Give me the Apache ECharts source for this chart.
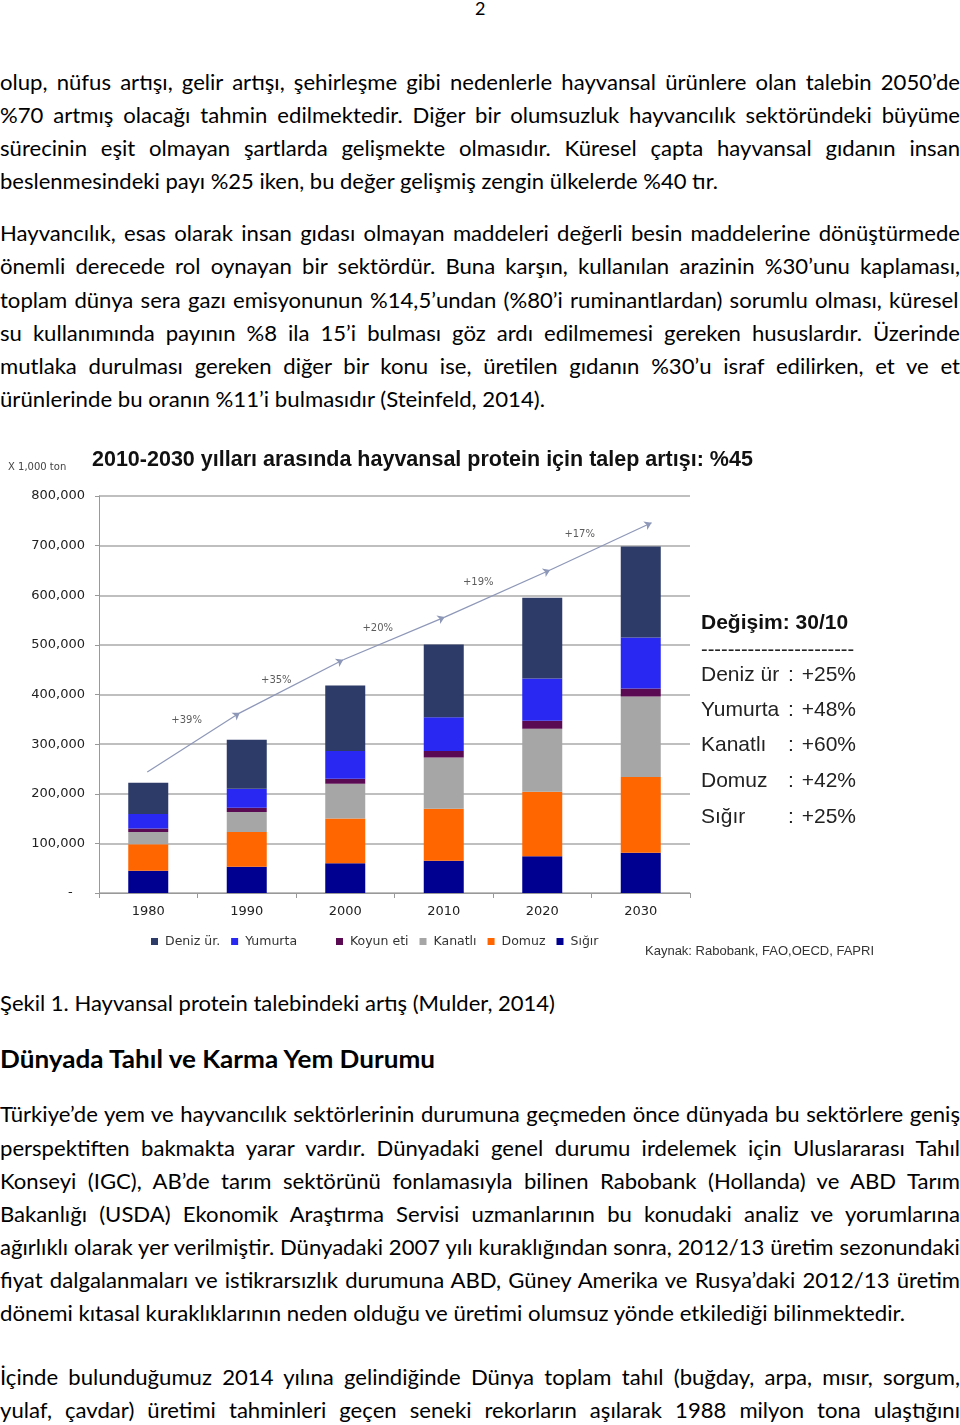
<!DOCTYPE html>
<html><head><meta charset="utf-8">
<script src="https://cdn.jsdelivr.net/npm/echarts@6/dist/echarts.min.js"></script>
<style>
html,body{margin:0;padding:0;background:#fff;}
body{width:960px;height:1425px;position:relative;overflow:hidden;font-family:Lato,'Noto Sans',sans-serif;color:#000;}
.ln{position:absolute;left:0;white-space:nowrap;font-size:21px;line-height:28px;transform-origin:0 50%;}
#chart{position:absolute;left:0;top:440px;width:960px;height:530px;}
</style></head><body>
<div id="chart"></div>
<div id="text"></div>
<script>
// ---------- chart data ----------
const years = ['1980', '1990', '2000', '2010', '2020', '2030'];
const sigir    = [45000, 53000, 60000, 65000, 74000, 81000];
const domuz    = [53000, 70000, 90000, 105000, 130000, 153000];
const kanatli  = [25000, 40000, 70000, 103000, 127000, 162000];
const koyunEti = [7000, 9000, 10000, 13000, 16000, 16000];
const yumurta  = [29000, 38000, 56000, 68000, 85000, 103000];
const denizUr  = [63000, 99000, 132000, 147000, 163000, 183000];
const yTicks = [0, 100000, 200000, 300000, 400000, 500000, 600000, 700000, 800000];
// growth arrow (x in category units 0..6, y in x1000 ton)
const arrowX = [0.49, 1.43, 2.48, 3.51, 4.58, 5.61];
const arrowY = [244000, 363000, 470000, 556000, 651000, 746000];
const growthLabels = ['+39%', '+35%', '+20%', '+19%', '+17%'];
const growthLabelX = [0.89, 1.80, 2.83, 3.85, 4.88];
const growthLabelY = [348000, 429000, 534000, 625000, 723000];
// change 2030/2010 panel
const changeNames = ['Deniz ür', 'Yumurta', 'Kanatlı', 'Domuz', 'Sığır'];
const changeValues = ['+25%', '+48%', '+60%', '+42%', '+25%'];

// ---------- page text ----------
const textLines = [
 {t:'olup, nüfus artışı, gelir artışı, şehirleşme gibi nedenlerle hayvansal ürünlere olan talebin 2050’de', y:82, end:960, j:true},
 {t:'%70 artmış olacağı tahmin edilmektedir. Diğer bir olumsuzluk hayvancılık sektöründeki büyüme', y:115, end:960, j:true},
 {t:'sürecinin eşit olmayan şartlarda gelişmekte olmasıdır. Küresel çapta hayvansal gıdanın insan', y:148, end:960, j:true},
 {t:'beslenmesindeki payı %25 iken, bu değer gelişmiş zengin ülkelerde %40 tır.', y:181, end:718, j:false, cal:true},
 {t:'Hayvancılık, esas olarak insan gıdası olmayan maddeleri değerli besin maddelerine dönüştürmede', y:233, end:960, j:true},
 {t:'önemli derecede rol oynayan bir sektördür. Buna karşın, kullanılan arazinin %30’unu kaplaması,', y:266, end:960, j:true},
 {t:'toplam dünya sera gazı emisyonunun %14,5’undan (%80’i ruminantlardan) sorumlu olması,  küresel', y:300, end:960, j:true},
 {t:'su kullanımında payının %8 ila 15’i bulması göz ardı edilmemesi gereken hususlardır. Üzerinde', y:333, end:960, j:true},
 {t:'mutlaka durulması gereken diğer bir konu ise, üretilen gıdanın %30’u israf edilirken, et ve et', y:366, end:960, j:true},
 {t:'ürünlerinde bu oranın %11’i bulmasıdır (Steinfeld, 2014).', y:399, end:545, j:false, cal:true},
 {t:'Şekil 1. Hayvansal protein talebindeki artış (Mulder, 2014)', y:1003, end:555, j:false, cal:true},
 {t:'Dünyada Tahıl ve Karma Yem Durumu', y:1059, end:435, j:false, bold:true},
 {t:'Türkiye’de yem ve hayvancılık sektörlerinin durumuna geçmeden önce dünyada bu sektörlere geniş', y:1114, end:960, j:true},
 {t:'perspektiften bakmakta yarar vardır. Dünyadaki genel durumu irdelemek için Uluslararası Tahıl', y:1148, end:960, j:true},
 {t:'Konseyi (IGC), AB’de tarım sektörünü fonlamasıyla bilinen Rabobank (Hollanda) ve ABD Tarım', y:1181, end:960, j:true},
 {t:'Bakanlığı (USDA) Ekonomik Araştırma Servisi uzmanlarının bu konudaki analiz ve yorumlarına', y:1214, end:960, j:true},
 {t:'ağırlıklı olarak yer verilmiştir.  Dünyadaki 2007 yılı kuraklığından sonra, 2012/13 üretim sezonundaki', y:1247, end:960, j:true},
 {t:'fiyat dalgalanmaları ve istikrarsızlık durumuna ABD, Güney Amerika ve Rusya’daki 2012/13 üretim', y:1280, end:960, j:true},
 {t:'dönemi kıtasal kuraklıklarının neden olduğu ve üretimi olumsuz yönde etkilediği bilinmektedir.', y:1313, end:905, j:false, cal:true},
 {t:'İçinde bulunduğumuz 2014 yılına gelindiğinde Dünya toplam tahıl (buğday, arpa, mısır, sorgum,', y:1377, end:960, j:true},
 {t:'yulaf, çavdar) üretimi tahminleri geçen seneki rekorların aşılarak 1988 milyon tona ulaştığını', y:1410, end:960, j:true}
];

const holder = document.getElementById('text');
const pn = document.createElement('div');
pn.className = 'ln'; pn.textContent = '2'; pn.style.fontSize = '18px';
pn.style.top = '-6px'; pn.style.left = '475px';
holder.appendChild(pn);

const els = textLines.map(l => {
  const d = document.createElement('div');
  d.className = 'ln';
  d.textContent = l.t;
  if (l.bold) { d.style.fontWeight = '700'; d.style.fontSize = '24px'; }
  d.style.top = (l.y - 14) + 'px';
  holder.appendChild(d);
  return d;
});
const widths = els.map(e => e.getBoundingClientRect().width);
let sSum = 0, sN = 0;
textLines.forEach((l, i) => { if (l.cal) { sSum += l.end / widths[i]; sN++; } });
const s = sSum / sN;
textLines.forEach((l, i) => {
  const e = els[i], w = widths[i];
  if (l.j) {
    const n = (l.t.match(/ /g) || []).length;
    e.style.wordSpacing = ((l.end / s - w) / n) + 'px';
    e.style.transform = 'scaleX(' + s + ')';
  } else {
    e.style.transform = 'scaleX(' + (l.end / w) + ')';
  }
});

// ---------- chart ----------
const chart = echarts.init(document.getElementById('chart'), null, {renderer: 'canvas'});
const axisFont = 'DejaVu Sans';
function barSeries(name, data, color) {
  return {name, type: 'bar', stack: 'total', data, barWidth: 40, xAxisIndex: 0,
    itemStyle: {color}, emphasis: {disabled: true}};
}
const segs = [];
for (let i = 0; i < arrowX.length - 1; i++) {
  segs.push({coords: [[arrowX[i], arrowY[i]], [arrowX[i + 1], arrowY[i + 1]]]});
}
const labelPts = growthLabels.map((t, i) => ({name: t, value: [growthLabelX[i], growthLabelY[i]]}));

const graphics = [
  {type: 'text', x: 92, y: 20, style: {text: '2010-2030 yılları arasında hayvansal protein için talep artışı: %45',
    font: 'bold 21.5px "Liberation Sans"', fill: '#111', verticalAlign: 'middle'}},
  {type: 'text', x: 8, y: 27, style: {text: 'X 1,000 ton', font: '10px "DejaVu Sans"', fill: '#444', verticalAlign: 'middle'}},
  {type: 'text', x: 701, y: 183, style: {text: 'Değişim: 30/10', font: 'bold 21px "Liberation Sans"', fill: '#111', verticalAlign: 'middle'}},
  {type: 'text', x: 701, y: 210, style: {text: '-----------------------', font: '20px "Liberation Sans"', fill: '#222', verticalAlign: 'middle'}},
  {type: 'text', x: 645, y: 511, style: {text: 'Kaynak: Rabobank, FAO,OECD, FAPRI', font: '13px "Liberation Sans"', fill: '#333', verticalAlign: 'middle'}}
];
const rowY = [235, 270, 305, 341, 377];
changeNames.forEach((n, i) => {
  graphics.push({type: 'text', x: 701, y: rowY[i], style: {text: n, font: '21px "Liberation Sans"', fill: '#222', verticalAlign: 'middle'}});
  graphics.push({type: 'text', x: 788, y: rowY[i], style: {text: ':', font: '21px "Liberation Sans"', fill: '#222', verticalAlign: 'middle'}});
  graphics.push({type: 'text', x: 856, y: rowY[i], style: {text: changeValues[i], font: '21px "Liberation Sans"', fill: '#222', align: 'right', verticalAlign: 'middle'}});
});

const legendCommon = {top: 495, padding: 0, icon: 'rect', itemWidth: 7, itemHeight: 7, itemGap: 11,
  textStyle: {fontFamily: axisFont, fontSize: 12.5, color: '#333', padding: [0, 0, 0, 2]}, selectedMode: false};

chart.setOption({
  animation: false,
  backgroundColor: '#fff',
  grid: {left: 99, top: 56, width: 591, height: 397, containLabel: false},
  legend: [
    Object.assign({left: 151, data: ['Deniz ür.', 'Yumurta']}, legendCommon),
    Object.assign({left: 336, data: ['Koyun eti', 'Kanatlı', 'Domuz', 'Sığır']}, legendCommon)
  ],
  xAxis: [
    {type: 'category', data: years, boundaryGap: true,
      axisLine: {show: true, lineStyle: {color: '#999', width: 1}},
      axisTick: {show: true, length: 5, alignWithLabel: false, lineStyle: {color: '#999'}},
      axisLabel: {fontFamily: axisFont, fontSize: 13, color: '#222', margin: 12},
      splitLine: {show: false}},
    {type: 'value', min: 0, max: 6, show: false}
  ],
  yAxis: {type: 'value', min: yTicks[0], max: yTicks[yTicks.length - 1], interval: yTicks[1] - yTicks[0],
    axisLine: {show: true, lineStyle: {color: '#999', width: 1}},
    axisTick: {show: true, length: 4, lineStyle: {color: '#999'}},
    splitLine: {show: true, lineStyle: {color: '#aaa', width: 1.5}},
    axisLabel: {fontFamily: axisFont, fontSize: 13, color: '#222', margin: 14,
      formatter: v => v === 0 ? '-   ' : v.toLocaleString('en-US')}},
  series: [
    barSeries('Sığır', sigir, '#000090'),
    barSeries('Domuz', domuz, '#ff6600'),
    barSeries('Kanatlı', kanatli, '#a6a6a6'),
    barSeries('Koyun eti', koyunEti, '#5a0a52'),
    barSeries('Yumurta', yumurta, '#2828f2'),
    barSeries('Deniz ür.', denizUr, '#2c3b67'),
    {type: 'lines', coordinateSystem: 'cartesian2d', xAxisIndex: 1, yAxisIndex: 0, silent: true, z: 5,
      symbol: ['none', 'arrow'], symbolSize: 7, lineStyle: {color: '#8d97b7', width: 1.2, opacity: 1, curveness: 0},
      data: segs},
    {type: 'scatter', xAxisIndex: 1, yAxisIndex: 0, symbolSize: 0, silent: true, z: 6, data: labelPts,
      label: {show: true, position: 'inside', formatter: '{b}', fontFamily: axisFont, fontSize: 10, color: '#333'}}
  ],
  graphic: graphics
});
</script>
</body></html>
